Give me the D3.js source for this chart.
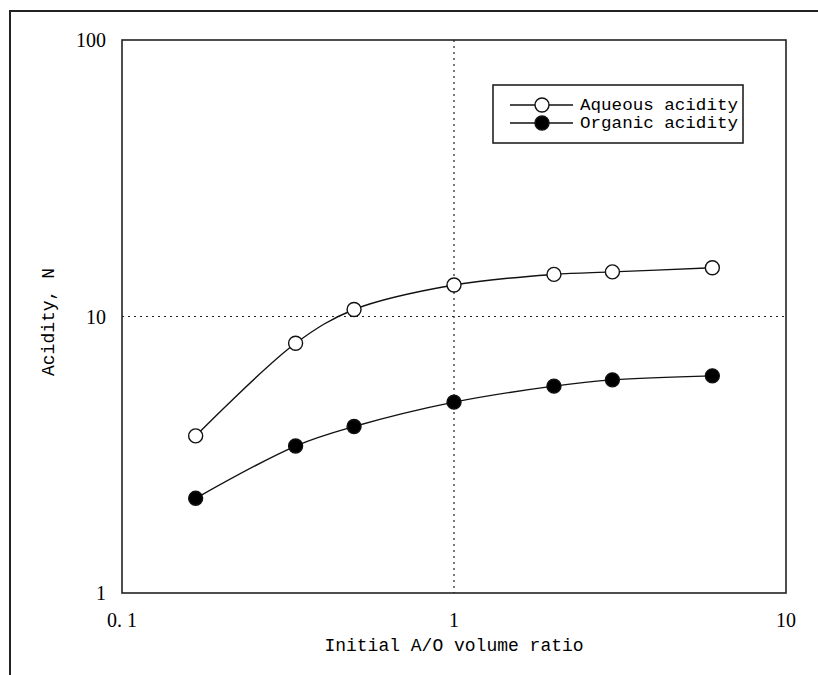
<!DOCTYPE html>
<meta charset="utf-8">
<html>
<head>
<style>
  body { margin: 0; background: #fff; }
  svg { display: block; }
</style>
</head>
<body>
<div id="chart"></div>
<script src="https://d3js.org/d3.v7.min.js"></script>
<script>

  // data
  var ratios = [1/6, 1/3, 0.5, 1, 2, 3, 6];
  var aqueous = [3.7, 8.0, 10.6, 13.0, 14.2, 14.5, 15.0];
  var organic = [2.2, 3.4, 4.0, 4.9, 5.6, 5.9, 6.1];
  var xTicks = [0.1, 1, 10];
  var xTickLabels = ["0. 1", "1", "10"];
  var yTicks = [1, 10, 100];
  var yTickLabels = ["1", "10", "100"];
  var seriesNames = ["Aqueous acidity", "Organic acidity"];

  var W = 818, H = 675;
  var margin = {top: 40, right: 32, bottom: 82, left: 122},
      width = W - margin.left - margin.right,
      height = H - margin.top - margin.bottom;

  var svg = d3.select("#chart").append("svg")
      .attr("width", W)
      .attr("height", H);

  // outer frame of the scanned figure
  svg.append("path")
    .attr("d", "M10," + (H + 5) + "V11H" + (W + 5))
    .attr("fill", "none")
    .attr("stroke", "#222")
    .attr("stroke-width", 2);

  var g = svg.append("g")
    .attr("transform", "translate(" + margin.left + "," + margin.top + ")");

  var x = d3.scaleLog().domain([0.1, 10]).range([0, width]);
  var y = d3.scaleLog().domain([1, 100]).range([height, 0]);

  // dotted grid at 1 and 10
  g.append("line")
    .attr("x1", x(1)).attr("x2", x(1))
    .attr("y1", 0).attr("y2", height)
    .attr("stroke", "#222").attr("stroke-width", 1.2)
    .attr("stroke-dasharray", "2,4");
  g.append("line")
    .attr("x1", 0).attr("x2", width)
    .attr("y1", y(10)).attr("y2", y(10))
    .attr("stroke", "#222").attr("stroke-width", 1.2)
    .attr("stroke-dasharray", "2,4");

  // plot frame
  g.append("rect")
    .attr("width", width).attr("height", height)
    .attr("fill", "none")
    .attr("stroke", "#222")
    .attr("stroke-width", 1.6);

  // tick labels
  g.selectAll(".xtick")
    .data(xTicks)
    .enter().append("text")
      .attr("x", function(d) { return x(d); })
      .attr("y", height + 34)
      .attr("text-anchor", "middle")
      .style("font-family", "'Liberation Serif', serif")
      .style("font-size", "20px")
      .text(function(d, i) { return xTickLabels[i]; });

  g.selectAll(".ytick")
    .data(yTicks)
    .enter().append("text")
      .attr("x", -16)
      .attr("y", function(d) { return y(d) + 7; })
      .attr("text-anchor", "end")
      .style("font-family", "'Liberation Serif', serif")
      .style("font-size", "20px")
      .text(function(d, i) { return yTickLabels[i]; });

  // axis titles
  g.append("text")
    .attr("x", x(1))
    .attr("y", height + 58)
    .attr("text-anchor", "middle")
    .style("font-family", "'Liberation Mono', monospace")
    .style("font-size", "18px")
    .text("Initial A/O volume ratio");

  g.append("text")
    .attr("transform", "translate(" + (48 - margin.left + 6) + "," + (322 - margin.top) + ") rotate(-90)")
    .attr("text-anchor", "middle")
    .style("font-family", "'Liberation Mono', monospace")
    .style("font-size", "18px")
    .text("Acidity, N");

  var line = d3.line()
    .x(function(d) { return x(d[0]); })
    .y(function(d) { return y(d[1]); })
    .curve(d3.curveCatmullRom.alpha(0.5));

  var series = [
    {name: seriesNames[0], values: d3.zip(ratios, aqueous), fill: "#fff"},
    {name: seriesNames[1], values: d3.zip(ratios, organic), fill: "#000"}
  ];

  series.forEach(function(s) {
    g.append("path")
      .datum(s.values)
      .attr("fill", "none")
      .attr("stroke", "#111")
      .attr("stroke-width", 1.4)
      .attr("d", line);

    g.selectAll(null)
      .data(s.values)
      .enter().append("circle")
        .attr("cx", function(d) { return x(d[0]); })
        .attr("cy", function(d) { return y(d[1]); })
        .attr("r", 7)
        .attr("fill", s.fill)
        .attr("stroke", "#111")
        .attr("stroke-width", 1.4);
  });

  // legend
  var legend = svg.append("g").attr("transform", "translate(493,85)");
  legend.append("rect")
    .attr("width", 250).attr("height", 58)
    .attr("fill", "#fff")
    .attr("stroke", "#222")
    .attr("stroke-width", 1.6);

  var item = legend.selectAll(".item")
    .data(series)
    .enter().append("g")
      .attr("transform", function(d, i) { return "translate(0," + (20 + i * 18) + ")"; });

  item.append("line")
    .attr("x1", 17).attr("x2", 80)
    .attr("stroke", "#111").attr("stroke-width", 1.4);
  item.append("circle")
    .attr("cx", 49).attr("r", 7)
    .attr("fill", function(d) { return d.fill; })
    .attr("stroke", "#111").attr("stroke-width", 1.4);
  item.append("text")
    .attr("x", 87).attr("y", 5)
    .attr("textLength", 158)
    .attr("lengthAdjust", "spacingAndGlyphs")
    .style("font-family", "'Liberation Mono', monospace")
    .style("font-size", "16px")
    .text(function(d) { return d.name; });

</script>
</body>
</html>
